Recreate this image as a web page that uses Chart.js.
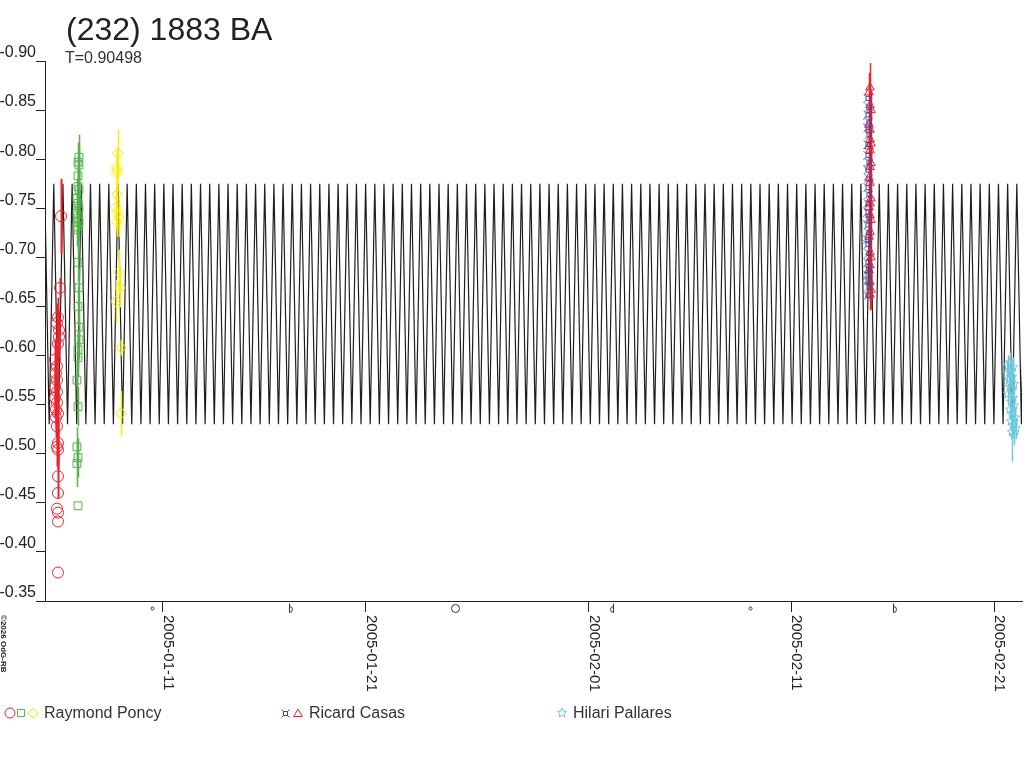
<!DOCTYPE html>
<html>
<head>
<meta charset="utf-8">
<script src="https://cdn.jsdelivr.net/npm/chart.js@4.4.1/dist/chart.umd.min.js"></script>
<style>
html, body { margin: 0; padding: 0; background: #fff; }
canvas { display: block; }
</style>
</head>
<body>
<canvas id="lcChart" width="1024" height="768"></canvas>
<script>
// Days are counted from 2005-01-00 (Jan 1 = 1, Feb 1 = 32)
const titleText = '(232) 1883 BA';
const periodText = 'T=0.90498';
const periodDays = 0.90498;
const creditText = '\u00a92026 OdG-RB';

const xMinDay = 5.18;
const xMaxDay = 53.38;
const tickDays = [11, 21, 32, 42, 52];
const tickLabels = ['2005-01-11', '2005-01-21', '2005-02-01', '2005-02-11', '2005-02-21'];

// Moon phases marked under the axis
const moonDays = [10.46, 17.31, 25.41, 33.10, 39.96, 47.11];
const moonPhases = ['new', 'first', 'full', 'last', 'new', 'first'];

// Model lightcurve, one rotation (two maxima, two minima)
const modelEpoch = 5.613;
const modelPhase = [0, 0.25, 0.5, 0.75];
const modelMag = [-0.775, -0.53, -0.775, -0.53];

// Raymond Poncy - session 1 (red circles)
const poncyRedDay = [5.97, 5.92, 5.82, 5.77, 5.87, 5.87, 5.82, 5.67, 5.77, 5.72, 5.77, 5.67, 5.77, 5.67,
                     5.77, 5.72, 5.82, 5.72, 5.77, 5.82, 5.77, 5.82, 5.82, 5.82, 5.77, 5.82, 5.82, 5.82];
const poncyRedMag = [-0.742, -0.669, -0.639, -0.633, -0.626, -0.619, -0.612, -0.596, -0.589, -0.582, -0.575, -0.568, -0.563, -0.557,
                     -0.552, -0.545, -0.541, -0.537, -0.528, -0.511, -0.507, -0.504, -0.477, -0.460, -0.444, -0.440, -0.431, -0.379];
const poncyRedErr = [0.038, 0.010, 0.020, 0.020, 0.020, 0.020, 0.020, 0.020, 0.020, 0.020, 0.020, 0.020, 0.020, 0.020,
                     0.020, 0.020, 0.020, 0.020, 0.020, 0.020, 0.020, 0.020, 0.022, 0, 0, 0, 0, 0];

// Raymond Poncy - session 2 (green squares)
const poncyGreenDay = [6.856, 6.807, 6.856, 6.807, 6.807, 6.856, 6.757, 6.807, 6.856, 6.757, 6.807, 6.856, 6.757, 6.807,
                       6.807, 6.856, 6.807, 6.856, 6.856, 6.807, 6.807, 6.757, 6.807, 6.757, 6.807, 6.757, 6.807];
const poncyGreenMag = [-0.802, -0.797, -0.794, -0.783, -0.772, -0.769, -0.760, -0.755, -0.750, -0.745, -0.740, -0.736, -0.731, -0.728,
                       -0.695, -0.669, -0.650, -0.629, -0.616, -0.606, -0.598, -0.575, -0.548, -0.507, -0.496, -0.490, -0.447];
const poncyGreenErr = [0.023, 0.020, 0.020, 0.020, 0.020, 0.020, 0.020, 0.020, 0.020, 0.020, 0.020, 0.020, 0.020, 0.020,
                       0.020, 0.020, 0.020, 0.020, 0.020, 0.020, 0.020, 0.020, 0.020, 0.020, 0.020, 0.024, 0];

// Raymond Poncy - session 3 (yellow diamonds)
const poncyYellowDay = [8.780, 8.731, 8.731, 8.731, 8.731, 8.681, 8.731, 8.829, 8.731, 8.829, 8.879, 8.681, 8.928, 8.928];
const poncyYellowMag = [-0.806, -0.792, -0.789, -0.786, -0.764, -0.751, -0.746, -0.741, -0.736, -0.685, -0.669, -0.655, -0.608, -0.541];
const poncyYellowErr = [0.024, 0.020, 0.020, 0.020, 0.020, 0.020, 0.020, 0.020, 0.015, 0.023, 0.020, 0.022, 0.008, 0.023];

// Ricard Casas (blue and red)
const casasBlueDay = [45.78, 45.83, 45.78, 45.83, 45.78, 45.83, 45.78, 45.78, 45.83, 45.78, 45.83, 45.78, 45.83, 45.78,
                      45.78, 45.83, 45.78, 45.83, 45.78, 45.78, 45.83, 45.78, 45.83, 45.78, 45.78, 45.83, 45.78];
const casasBlueMag = [-0.862, -0.853, -0.845, -0.838, -0.832, -0.825, -0.815, -0.804, -0.797, -0.789, -0.780, -0.771, -0.764, -0.755,
                      -0.746, -0.740, -0.733, -0.725, -0.718, -0.713, -0.704, -0.695, -0.688, -0.682, -0.676, -0.670, -0.661];
const casasRedDay = [45.88, 45.83, 45.88, 45.93, 45.83, 45.88, 45.88, 45.93, 45.83, 45.88, 45.93, 45.88, 45.83, 45.88,
                     45.93, 45.88, 45.83, 45.88, 45.93, 45.88, 45.83, 45.88, 45.93, 45.88, 45.83, 45.88, 45.93, 45.88];
const casasRedMag = [-0.873, -0.868, -0.855, -0.850, -0.835, -0.830, -0.820, -0.816, -0.813, -0.809, -0.796, -0.792, -0.781, -0.776,
                     -0.760, -0.755, -0.751, -0.743, -0.738, -0.726, -0.721, -0.705, -0.700, -0.692, -0.687, -0.675, -0.667, -0.662];
const casasRedErr = [0.025, 0.020, 0.020, 0.020, 0.020, 0.020, 0.020, 0.020, 0.020, 0.020, 0.020, 0.020, 0.020, 0.020,
                     0.020, 0.020, 0.020, 0.020, 0.020, 0.020, 0.020, 0.020, 0.020, 0.020, 0.020, 0.020, 0.020, 0.016];

// Hilari Pallares (cyan stars)
const pallaresDay = [52.786, 52.687, 52.934, 52.836, 52.638, 52.885, 52.737, 52.984, 52.786, 52.885, 52.687,
                     52.934, 52.836, 52.984, 52.786, 52.885, 53.033, 52.836, 52.934, 53.083, 52.885, 52.984];
const pallaresMag = [-0.593, -0.590, -0.588, -0.585, -0.582, -0.578, -0.575, -0.571, -0.568, -0.565, -0.561,
                     -0.557, -0.553, -0.549, -0.545, -0.541, -0.537, -0.533, -0.529, -0.526, -0.522, -0.519];
const pallaresErr = [0.010, 0.010, 0.010, 0.010, 0.010, 0.010, 0.010, 0.010, 0.010, 0.010, 0.010,
                     0.010, 0.010, 0.010, 0.010, 0.010, 0.010, 0.010, 0.010, 0.010, 0.030, 0.010];

const FONT = "'Liberation Sans', Arial, sans-serif";
const RED = 'rgb(238,34,44)';
const GREEN = 'rgb(84,178,72)';
const YELLOW = 'rgb(250,236,0)';
const BLUE = 'rgb(52,72,164)';
const CYAN = 'rgb(110,200,218)';

function toPoints(days, mags) {
    return days.map((d, i) => ({ x: d, y: mags[i] }));
}

// outlined star marker (the built-in 'star' is an asterisk)
function makeStarImage(color, r) {
    const size = Math.ceil(r * 2) + 2;
    const c = document.createElement('canvas');
    c.width = size; c.height = size;
    const g = c.getContext('2d');
    g.strokeStyle = color;
    g.lineWidth = 1;
    g.beginPath();
    for (let i = 0; i < 10; i++) {
        const rr = i % 2 === 0 ? r : r * 0.45;
        const a = -Math.PI / 2 + i * Math.PI / 5;
        const px = size / 2 + rr * Math.cos(a);
        const py = size / 2 + rr * Math.sin(a);
        if (i === 0) g.moveTo(px, py); else g.lineTo(px, py);
    }
    g.closePath();
    g.stroke();
    return c;
}

// small square with corner ticks, like the currency sign
function makeCurrencyImage(color) {
    const c = document.createElement('canvas');
    c.width = 9; c.height = 9;
    const g = c.getContext('2d');
    g.strokeStyle = color;
    g.lineWidth = 1;
    g.strokeRect(2.5, 2.5, 4, 4);
    g.beginPath();
    g.moveTo(0.5, 0.5); g.lineTo(2.5, 2.5);
    g.moveTo(8.5, 0.5); g.lineTo(6.5, 2.5);
    g.moveTo(0.5, 8.5); g.lineTo(2.5, 6.5);
    g.moveTo(8.5, 8.5); g.lineTo(6.5, 6.5);
    g.stroke();
    return c;
}

const starImage = makeStarImage(CYAN, 5);
const currencyImage = makeCurrencyImage(BLUE);

// repeat the read rotation shape over the plotted range
const modelPoints = [];
for (let k = Math.floor((xMinDay - modelEpoch) / periodDays) - 1; k * periodDays + modelEpoch < xMaxDay + periodDays; k++) {
    modelPhase.forEach((ph, j) => {
        modelPoints.push({ x: modelEpoch + (k + ph) * periodDays, y: modelMag[j] });
    });
}

function marker(style, color, radius) {
    return {
        pointStyle: style,
        pointRadius: radius,
        pointBorderColor: color,
        pointBackgroundColor: 'rgba(0,0,0,0)',
        pointBorderWidth: 1,
        pointHoverRadius: radius,
        showLine: false,
        order: 0
    };
}

function drawSymbol(ctx, style, color, radius, x, y) {
    ctx.save();
    if (typeof style === 'object') {
        ctx.drawImage(style, Math.round(x - style.width / 2), Math.round(y - style.height / 2));
        ctx.restore();
        return;
    }
    ctx.strokeStyle = color;
    ctx.fillStyle = 'rgba(0,0,0,0)';
    ctx.lineWidth = 1;
    if (Chart.helpers && Chart.helpers.drawPoint) {
        Chart.helpers.drawPoint(ctx, { pointStyle: style, radius: radius, rotation: 0, borderWidth: 1 }, x, y);
    } else {
        ctx.beginPath();
        ctx.arc(x, y, radius, 0, Math.PI * 2);
        ctx.stroke();
    }
    ctx.restore();
}

// error bars go above the model curve but under the markers
const errorBars = {
    id: 'errorBars',
    afterDatasetDraw(chart, args) {
        if (args.index !== 0) return;
        const { ctx, chartArea, scales: { x, y } } = chart;
        ctx.save();
        ctx.beginPath();
        ctx.rect(chartArea.left, chartArea.top - 5, chartArea.right - chartArea.left, chartArea.bottom - chartArea.top + 5);
        ctx.clip();
        chart.data.datasets.forEach(ds => {
            if (!ds.errors) return;
            ctx.strokeStyle = ds.errorColor || ds.pointBorderColor;
            ctx.lineWidth = ds.errorWidth || 1;
            ds.data.forEach((p, i) => {
                const e = ds.errors[i];
                if (!e) return;
                const px = Math.round(x.getPixelForValue(p.x)) + 0.5;
                ctx.beginPath();
                ctx.moveTo(px, y.getPixelForValue(p.y - e));
                ctx.lineTo(px, y.getPixelForValue(p.y + e));
                ctx.stroke();
            });
        });
        ctx.restore();
    }
};

const decorations = {
    id: 'decorations',
    afterDraw(chart) {
        const { ctx, scales: { x } } = chart;
        ctx.save();
        ctx.fillStyle = '#222';
        ctx.textAlign = 'left';
        ctx.textBaseline = 'alphabetic';

        // title and period
        ctx.font = '32px ' + FONT;
        ctx.fillText(titleText, 66, 40);
        ctx.font = '16px ' + FONT;
        ctx.fillStyle = '#333';
        ctx.fillText(periodText, 65, 63);

        // date labels, rotated clockwise
        ctx.fillStyle = '#222';
        ctx.font = '15px ' + FONT;
        tickDays.forEach((d, i) => {
            const px = Math.round(x.getPixelForValue(d));
            ctx.save();
            ctx.translate(px + 1, 615);
            ctx.rotate(Math.PI / 2);
            ctx.fillText(tickLabels[i], 0, 0);
            ctx.restore();
        });

        // credit line
        ctx.save();
        ctx.font = 'bold 8px ' + FONT;
        ctx.translate(1, 615);
        ctx.rotate(Math.PI / 2);
        ctx.fillText(creditText, 0, 0);
        ctx.restore();

        // moon phases
        ctx.strokeStyle = '#333';
        ctx.lineWidth = 1;
        moonDays.forEach((d, i) => {
            const px = Math.round(x.getPixelForValue(d)) + 0.5;
            const py = 608.5;
            const ph = moonPhases[i];
            ctx.beginPath();
            if (ph === 'new') {
                ctx.arc(px, py, 1.5, 0, Math.PI * 2);
            } else if (ph === 'full') {
                ctx.arc(px, py, 4, 0, Math.PI * 2);
            } else if (ph === 'first') {
                ctx.moveTo(px - 2, py - 5);
                ctx.lineTo(px - 2, py + 4);
                ctx.arc(px - 2, py + 1, 3, Math.PI / 2, -Math.PI / 2, true);
            } else {
                ctx.moveTo(px + 2, py - 5);
                ctx.lineTo(px + 2, py + 4);
                ctx.arc(px + 2, py + 1, 3, Math.PI / 2, -Math.PI / 2, false);
            }
            ctx.stroke();
        });

        // legend
        const ly = 713;
        drawSymbol(ctx, 'circle', RED, 5, 10, ly);
        drawSymbol(ctx, 'rect', GREEN, 5, 21, ly);
        drawSymbol(ctx, 'rectRot', YELLOW, 5, 33, ly);
        drawSymbol(ctx, currencyImage, BLUE, 4, 285, ly);
        drawSymbol(ctx, 'triangle', RED, 5, 298, ly + 1);
        drawSymbol(ctx, starImage, CYAN, 5, 562, ly);
        ctx.fillStyle = '#333';
        ctx.font = '16px ' + FONT;
        ctx.fillText('Raymond Poncy', 44, 718);
        ctx.fillText('Ricard Casas', 309, 718);
        ctx.fillText('Hilari Pallares', 573, 718);
        ctx.restore();
    }
};

const canvasElement = document.getElementById('lcChart');
const ctx = canvasElement.getContext('2d');

const lcChart = new Chart(ctx, {
    type: 'scatter',
    data: {
        datasets: [
            {
                label: 'model',
                data: modelPoints,
                showLine: true,
                borderColor: '#1e1e1e',
                borderWidth: 1.2,
                pointRadius: 0,
                pointHoverRadius: 0,
                tension: 0,
                order: 100
            },
            Object.assign({ label: 'Raymond Poncy 1', data: toPoints(poncyRedDay, poncyRedMag), errors: poncyRedErr, errorWidth: 2 }, marker('circle', RED, 5.5)),
            Object.assign({ label: 'Raymond Poncy 2', data: toPoints(poncyGreenDay, poncyGreenMag), errors: poncyGreenErr, errorWidth: 1.5 }, marker('rect', GREEN, 5.5)),
            Object.assign({ label: 'Raymond Poncy 3', data: toPoints(poncyYellowDay, poncyYellowMag), errors: poncyYellowErr, errorWidth: 1.5 }, marker('rectRot', YELLOW, 5.5)),
            Object.assign({ label: 'Ricard Casas blue', data: toPoints(casasBlueDay, casasBlueMag) }, marker(currencyImage, BLUE, 4)),
            Object.assign({ label: 'Ricard Casas red', data: toPoints(casasRedDay, casasRedMag), errors: casasRedErr, errorWidth: 1.5 }, marker('triangle', RED, 5)),
            Object.assign({ label: 'Hilari Pallares', data: toPoints(pallaresDay, pallaresMag), errors: pallaresErr, errorWidth: 1.5, errorColor: CYAN }, marker(starImage, CYAN, 5))
        ]
    },
    options: {
        responsive: false,
        animation: false,
        devicePixelRatio: 1,
        layout: { autoPadding: false, padding: { top: 61, right: 2, bottom: 0, left: 0 } },
        plugins: {
            legend: { display: false },
            tooltip: { enabled: false },
            title: { display: false }
        },
        scales: {
            x: {
                type: 'linear',
                min: xMinDay,
                max: xMaxDay,
                afterBuildTicks: axis => { axis.ticks = tickDays.map(v => ({ value: v })); },
                afterFit: axis => { axis.height = 167; },
                ticks: { display: false },
                grid: { drawOnChartArea: false, drawTicks: true, tickLength: 11, color: '#222' },
                border: { display: true, color: '#222', width: 1 }
            },
            y: {
                type: 'linear',
                reverse: true,
                min: -0.90,
                max: -0.35,
                afterFit: axis => { axis.width = 45; },
                ticks: {
                    stepSize: 0.05,
                    autoSkip: false,
                    padding: 0,
                    labelOffset: -8,
                    color: '#222',
                    font: { family: FONT, size: 16 },
                    callback: v => v.toFixed(2)
                },
                grid: { drawOnChartArea: false, drawTicks: true, tickLength: 9, color: '#222' },
                border: { display: true, color: '#222', width: 1 }
            }
        }
    },
    plugins: [errorBars, decorations]
});
</script>
</body>
</html>
